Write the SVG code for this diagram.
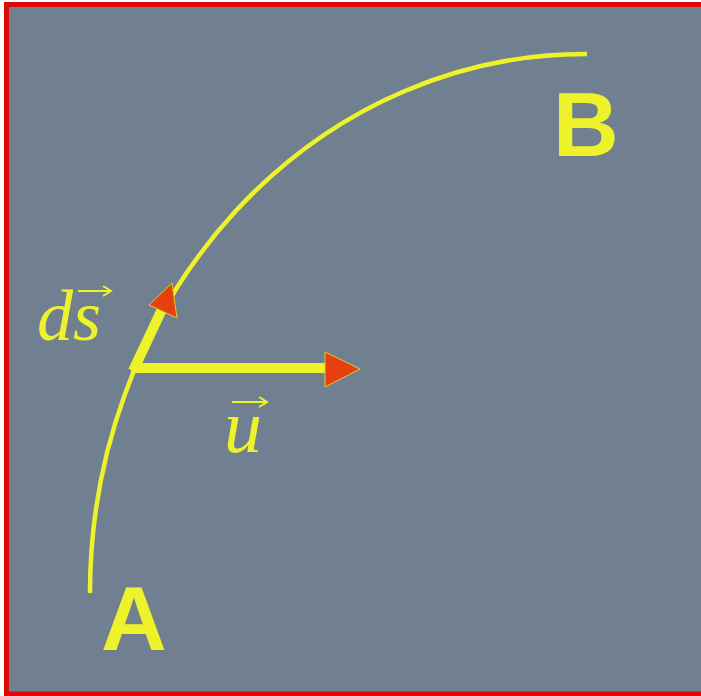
<svg xmlns="http://www.w3.org/2000/svg" width="701" height="696" viewBox="0 0 701 696">
<style>
.curve{fill:none;stroke:#eef22a;stroke-width:4.5}
.shaft{stroke:#eef22a;stroke-width:10;stroke-linecap:butt}
.head{fill:#e6400e;stroke:#e6c82a;stroke-width:1}
.big{font-family:"Liberation Sans",Arial,sans-serif;font-weight:bold;fill:#eef22a;font-size:91px}
.sym{font-family:"Liberation Serif","Times New Roman",serif;font-style:italic;fill:#eef22a}
.vec{stroke:#eef22a;stroke-width:2;fill:none}
</style>
<rect x="0" y="0" width="701" height="696" fill="#fff"/>
<rect x="6.5" y="4.5" width="697" height="689.5" fill="#708090" stroke="#dd0a0a" stroke-width="5"/>
<g id="connectors">
<path class="curve" d="M90,593 A495,539 0 0 1 587,54"/>
</g>
<g id="ds-arrow">
<line class="shaft" x1="133" y1="371" x2="164" y2="305"/>
<polygon class="head" points="172,283 149,305 177,318"/>
</g>
<g id="u-arrow">
<line class="shaft" x1="131" y1="368" x2="325" y2="368"/>
<polygon class="head" points="360,369 325,352 325,387"/>
</g>
<g id="label-ds">
<text class="sym" x="37" y="340" font-size="72">ds</text>
<path class="vec" d="M78,291 H110 M103,286 L111,291 L103,296"/>
</g>
<g id="label-u">
<text class="sym" x="224" y="452" font-size="76">u</text>
<path class="vec" d="M232,402 H266 M259,397 L267,402 L259,407"/>
</g>
<g id="node-A">
<text class="big" x="101" y="650">A</text>
</g>
<g id="node-B">
<text class="big" x="553" y="156">B</text>
</g>
</svg>
